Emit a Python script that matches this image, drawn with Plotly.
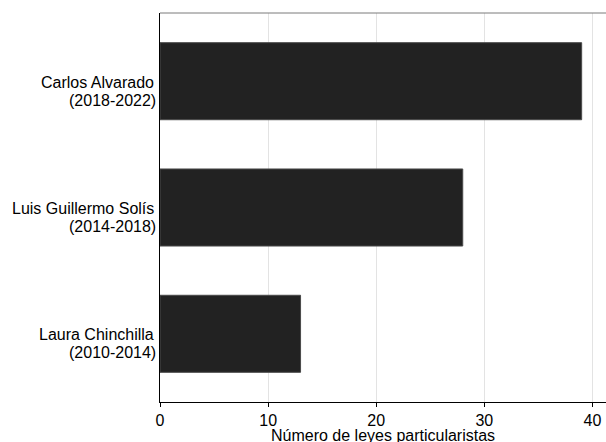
import plotly.graph_objects as go

names = ["Laura Chinchilla", "Luis Guillermo Solís", "Carlos Alvarado"]
periods = ["(2010-2014)", "(2014-2018)", "(2018-2022)"]
values = [13, 28, 39]
x_ticks = [0, 10, 20, 30, 40]
x_title = "Número de leyes particularistas"

font = "Liberation Sans, Arial, sans-serif"

fig = go.Figure()
fig.add_trace(go.Bar(
    y=names, x=values, orientation="h",
    marker=dict(color="#222222", line=dict(color="#4a4a4a", width=1)),
    width=0.61,
))

annotations = []
for n, p in zip(names, periods):
    annotations.append(dict(text=n, xref="paper", yref="y", x=0, y=n,
                            xanchor="right", yanchor="middle", xshift=-4,
                            yshift=-1, showarrow=False, font=dict(size=16)))
    annotations.append(dict(text=p, xref="paper", yref="y", x=0, y=n,
                            xanchor="right", yanchor="middle", xshift=-2,
                            yshift=-19, showarrow=False, font=dict(size=16)))
annotations.append(dict(text=x_title, xref="paper", yref="paper", x=0.5, y=0,
                        xanchor="center", yanchor="middle", yshift=-33,
                        showarrow=False, font=dict(size=16)))

fig.update_layout(
    width=606, height=442,
    margin=dict(l=160, r=0, t=13, b=40, autoexpand=False),
    plot_bgcolor="white", paper_bgcolor="white",
    showlegend=False,
    font=dict(family=font, size=16, color="black"),
    annotations=annotations,
    xaxis=dict(
        range=[0, 41.25], tickvals=x_ticks, ticks="outside", ticklen=4,
        tickcolor="black", showline=True, linecolor="black", linewidth=1,
        showgrid=True, gridcolor="#e3e3e3", gridwidth=1, zeroline=False,
        tickfont=dict(size=16), automargin=False, ticklabelstandoff=0,
    ),
    yaxis=dict(
        range=[-0.54, 2.54], showline=True, linecolor="black", linewidth=1,
        showgrid=False, zeroline=False, ticks="", showticklabels=False,
        automargin=False,
    ),
)
fig.add_shape(type="line", xref="paper", yref="paper", x0=0, x1=1, y0=1, y1=1,
              line=dict(color="#7a7a7a", width=1))
fig.write_html("out.html", config={"displayModeBar": False},
               post_script="document.body.style.margin='0';document.body.style.overflow='hidden';")
